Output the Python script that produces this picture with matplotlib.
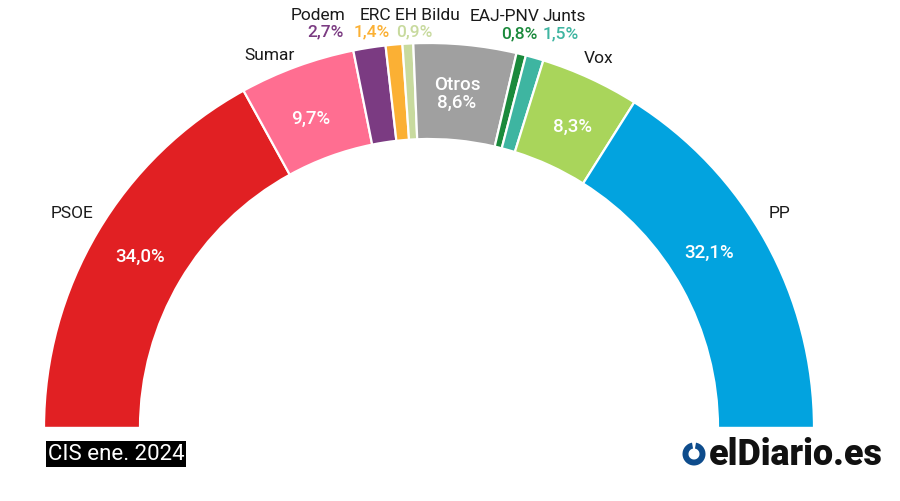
import matplotlib
matplotlib.use("Agg")
import matplotlib.pyplot as plt
from matplotlib.patches import Wedge, Rectangle

parties = ["PSOE", "Sumar", "Podem", "ERC", "EH Bildu", "Otros", "EAJ-PNV", "Junts", "Vox", "PP"]
values = [34.0, 9.7, 2.7, 1.4, 0.9, 8.6, 0.8, 1.5, 8.3, 32.1]
colors = ["#E12023", "#FF6E91", "#7B3B82", "#FBB034", "#C8DA9E", "#A0A0A0",
          "#1B8A3C", "#3EB5A1", "#A9D55B", "#02A3DF"]
value_labels = ["34,0%", "9,7%", "2,7%", "1,4%", "0,9%", "8,6%", "0,8%", "1,5%", "8,3%", "32,1%"]
source = "CIS ene. 2024"

plt.rcParams['font.family'] = ['Roboto', 'DejaVu Sans']

W, H = 900, 501
fig = plt.figure(figsize=(W / 100, H / 100), dpi=100)
ax = fig.add_axes([0, 0, 1, 1])

def Y(y):
    return H - y

cx, cy = 429, Y(428)
R, ring = 385, 96

total = sum(values)
ax.pie(values + [total], colors=colors + ["none"], startangle=180, counterclock=False,
       center=(cx, cy), radius=R, frame=True,
       wedgeprops=dict(width=ring, edgecolor="white", linewidth=1.6))
ax.set_xlim(0, W)
ax.set_ylim(0, H)
ax.set_aspect('equal')
ax.axis('off')
ax.add_patch(Rectangle((0, 0), W, cy - 0.5, facecolor="white", edgecolor="none", zorder=3))

fs = 12.5
dark = "#1a1a1a"
ax.text(72, Y(213), "PSOE", ha="center", va="center", fontsize=fs, color=dark)
ax.text(270, Y(55), "Sumar", ha="center", va="center", fontsize=fs, color=dark)
ax.text(318, Y(15), "Podem", ha="center", va="center", fontsize=fs, color=dark)
ax.text(344, Y(32), value_labels[2], ha="right", va="center", fontsize=fs, color=colors[2], fontweight="medium")
ax.text(375, Y(15), "ERC", ha="center", va="center", fontsize=fs, color=dark)
ax.text(372, Y(32), value_labels[3], ha="center", va="center", fontsize=fs, color=colors[3], fontweight="medium")
ax.text(427, Y(15), "EH Bildu", ha="center", va="center", fontsize=fs, color=dark)
ax.text(396, Y(32), value_labels[4], ha="left", va="center", fontsize=fs, color=colors[4], fontweight="medium")
ax.text(505, Y(16), "EAJ-PNV", ha="center", va="center", fontsize=fs, color=dark)
ax.text(538, Y(34), value_labels[6], ha="right", va="center", fontsize=fs, color=colors[6], fontweight="medium")
ax.text(564, Y(16), "Junts", ha="center", va="center", fontsize=fs, color=dark)
ax.text(561, Y(34), value_labels[7], ha="center", va="center", fontsize=fs, color=colors[7], fontweight="medium")
ax.text(599, Y(58), "Vox", ha="center", va="center", fontsize=fs, color=dark)
ax.text(779, Y(213), "PP", ha="center", va="center", fontsize=fs, color=dark)

fi = 13.5
ax.text(140, Y(257), value_labels[0], ha="center", va="center", fontsize=fi, color="white", fontweight="medium", zorder=5)
ax.text(311, Y(119), value_labels[1], ha="center", va="center", fontsize=fi, color="white", fontweight="medium", zorder=5)
ax.text(457, Y(94), "Otros\n" + value_labels[5], ha="center", va="center", fontsize=fi, color="white",
        fontweight="medium", linespacing=1.05, zorder=5)
ax.text(572, Y(127), value_labels[8], ha="center", va="center", fontsize=fi, color="white", fontweight="medium", zorder=5)
ax.text(709, Y(253), value_labels[9], ha="center", va="center", fontsize=fi, color="white", fontweight="medium", zorder=5)

ax.text(116, Y(454), source, ha="center", va="center", fontsize=16, color="white", zorder=6,
        bbox=dict(boxstyle="square,pad=0.1", facecolor="black", edgecolor="none"))

ax.add_patch(Wedge((694, Y(454)), 11.5, 100, 80 + 360, width=6, facecolor="#0E4C8C",
                   edgecolor="none", zorder=6))
ax.text(709, Y(455), "elDiario.es", ha="left", va="center", fontsize=25.8, color="#111111",
        fontweight="black", zorder=6)

fig.savefig("out.png", dpi=100, facecolor="white")
